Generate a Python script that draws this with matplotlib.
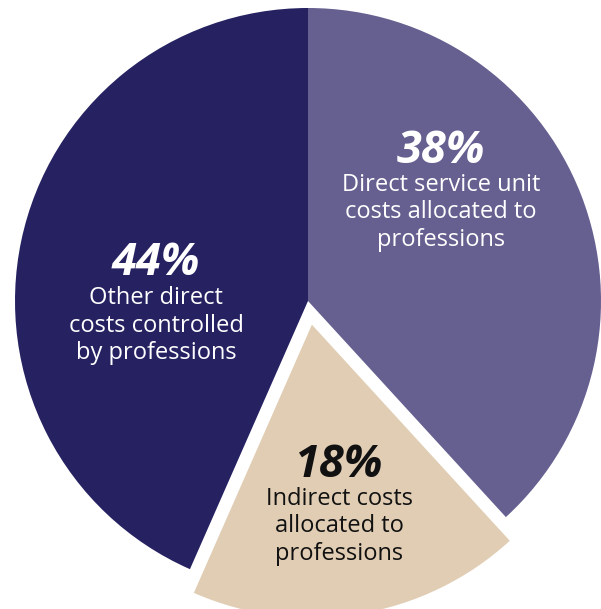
import matplotlib
matplotlib.use("Agg")
import matplotlib.pyplot as plt

# Data
categories = ["Direct service unit\ncosts allocated to\nprofessions",
              "Indirect costs\nallocated to\nprofessions",
              "Other direct\ncosts controlled\nby professions"]
values = [38.2, 18.4, 43.4]
pct_labels = ["38%", "18%", "44%"]

colors = ["#656090", "#e0cdb4", "#262262"]
text_colors = ["white", "#111111", "white"]
explode = [0, 24, 0]

W, H = 601, 609
fig = plt.figure(figsize=(W / 100, H / 100), dpi=100)
ax = fig.add_axes([0, 0, 1, 1])

cx, cy, r = 308, H - 301, 293
ax.pie(values, colors=colors, explode=explode, startangle=90, counterclock=False,
       center=(cx, cy), radius=r, frame=True,
       wedgeprops=dict(linewidth=0))
ax.set_xlim(0, W)
ax.set_ylim(0, H)
ax.set_aspect("equal")
ax.axis("off")

# label anchor positions (pixel coords: x center, baseline of percent, first text baseline)
pos = [(441, 163, 191), (339, 477, 505), (156, 275, 304)]
line_gap = 27.5
font = "Open Sans"
for (x, pb, tb), pct, cat, tc in zip(pos, pct_labels, categories, text_colors):
    ax.text(x, H - pb, pct, ha="center", va="baseline", color=tc,
            fontsize=32.5, fontweight="bold", fontstyle="italic", family=font)
    for i, line in enumerate(cat.split("\n")):
        ax.text(x, H - (tb + i * line_gap), line, ha="center", va="baseline",
                color=tc, fontsize=17, family=font)

fig.savefig("out.png", dpi=100)
